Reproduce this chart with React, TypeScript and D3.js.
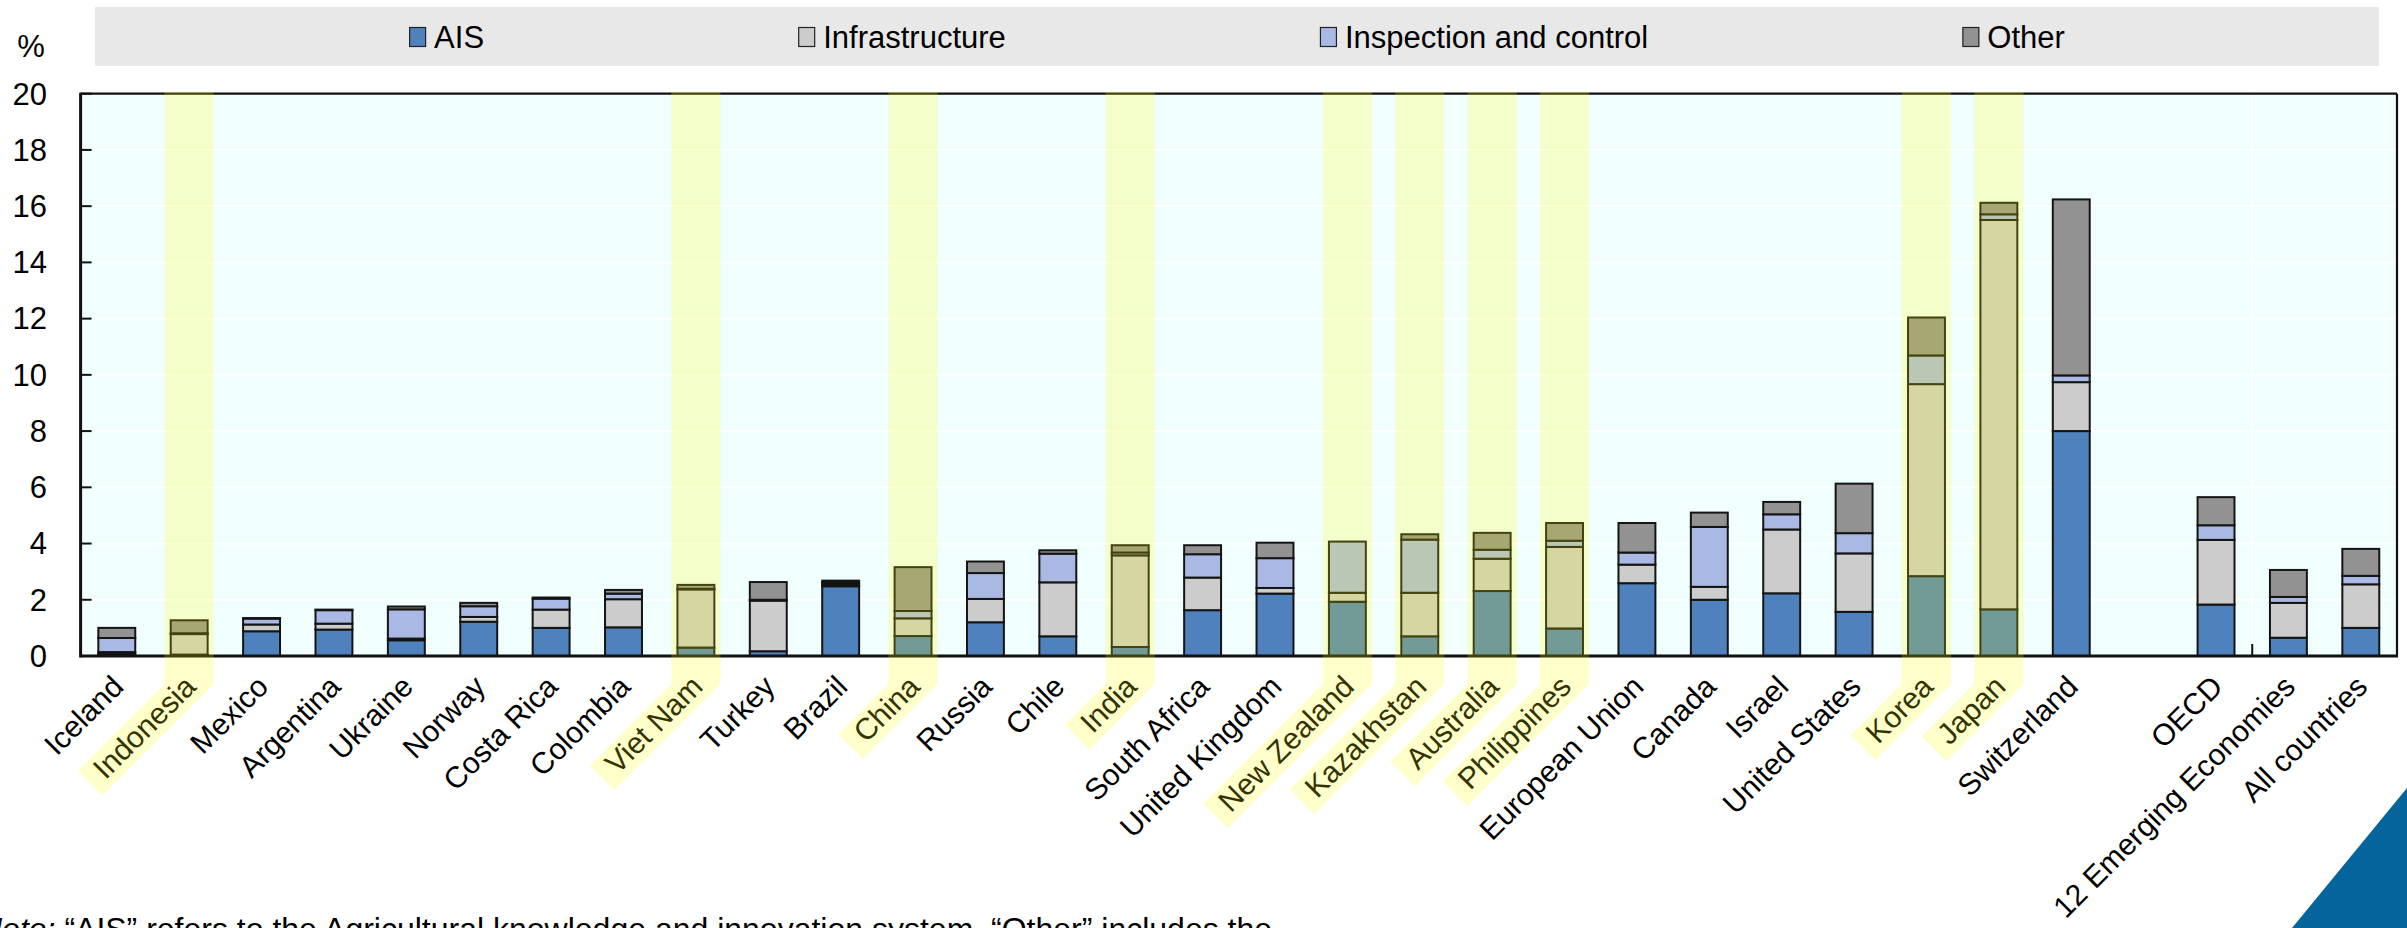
import React from 'react';
import * as d3 from 'd3';

// categories (countries sorted, then aggregates after a blank slot)
const countries = [
  'Iceland', 'Indonesia', 'Mexico', 'Argentina', 'Ukraine', 'Norway', 'Costa Rica',
  'Colombia', 'Viet Nam', 'Turkey', 'Brazil', 'China', 'Russia', 'Chile', 'India',
  'South Africa', 'United Kingdom', 'New Zealand', 'Kazakhstan', 'Australia',
  'Philippines', 'European Union', 'Canada', 'Israel', 'United States', 'Korea',
  'Japan', 'Switzerland',
];
const aggregates = ['OECD', '12 Emerging Economies', 'All countries'];

// emerging economies shaded in yellow
const highlighted = [
  'Indonesia', 'Viet Nam', 'China', 'India', 'New Zealand', 'Kazakhstan',
  'Australia', 'Philippines', 'Korea', 'Japan',
];

// % values, same order as countries + aggregates
const ais = [
  0.08, 0.05, 0.88, 0.94, 0.56, 1.22, 1.0, 1.02, 0.3, 0.17, 2.48, 0.71, 1.2, 0.7, 0.32,
  1.63, 2.22, 1.93, 0.7, 2.31, 0.98, 2.59, 2.0, 2.23, 1.57, 2.84, 1.66, 8.0,
  1.83, 0.65, 1.0,
];
const infrastructure = [
  0.06, 0.73, 0.24, 0.21, 0.06, 0.17, 0.65, 1.0, 2.07, 1.8, 0.07, 0.63, 0.83, 1.92, 3.26,
  1.16, 0.2, 0.32, 1.55, 1.15, 2.9, 0.66, 0.46, 2.27, 2.08, 6.83, 13.85, 1.74,
  2.3, 1.24, 1.55,
];
const inspection = [
  0.5, 0.03, 0.21, 0.48, 1.04, 0.38, 0.39, 0.2, 0.02, 0.03, 0.06, 0.26, 0.92, 1.02, 0.1,
  0.83, 1.06, 1.82, 1.89, 0.32, 0.22, 0.43, 2.13, 0.54, 0.72, 1.02, 0.2, 0.24,
  0.52, 0.21, 0.3,
];
const other = [
  0.36, 0.46, 0.02, 0.02, 0.1, 0.12, 0.04, 0.13, 0.14, 0.63, 0.07, 1.56, 0.41, 0.12, 0.26,
  0.32, 0.55, 0.0, 0.19, 0.6, 0.63, 1.05, 0.51, 0.44, 1.76, 1.35, 0.41, 6.26,
  1.0, 0.96, 0.96,
];

const seriesNames = ['AIS', 'Infrastructure', 'Inspection and control', 'Other'];
const seriesColors = ['#4f81bd', '#cccccc', '#a9b9e3', '#929292'];

const W = 2407;
const H = 928;
const plot = { left: 80.6, right: 2397, top: 93.7, bottom: 656 };
const FONT = "'Liberation Sans', Arial, Helvetica, sans-serif";
const TICK_SIZE = 31;
const CAT_SIZE = 30;
const LEG_SIZE = 31;

let ctx: CanvasRenderingContext2D | null = null;
function textWidth(s: string, size: number) {
  if (!ctx) ctx = document.createElement('canvas').getContext('2d');
  if (!ctx) return s.length * size * 0.5;
  ctx.font = `${size}px ${FONT}`;
  return ctx.measureText(s).width;
}

export default function App() {
  const labels = [...countries, ...aggregates];
  const domain = [...countries, '__gap', ...aggregates];

  const x = d3
    .scaleBand<string>()
    .domain(domain)
    .range([plot.left, plot.right])
    .paddingInner(0.49)
    .paddingOuter(0.245);
  const y = d3.scaleLinear().domain([0, 20]).range([plot.bottom, plot.top]);

  const rows = labels.map((name, i) => ({
    name,
    AIS: ais[i],
    Infrastructure: infrastructure[i],
    'Inspection and control': inspection[i],
    Other: other[i],
  }));
  const layers = d3.stack<any>().keys(seriesNames)(rows);

  const step = x.step();
  const bw = x.bandwidth();
  const cx = (name: string) => (x(name) as number) + bw / 2;

  // highlight column + slanted band under the label
  const colW = step * 0.68;
  const colBottom = 684;
  const labelY = 681;
  const hlPath = (name: string) => {
    const c = cx(name);
    const x0 = c - colW / 2;
    const x1 = c + colW / 2;
    const t = colW / 2;
    const L = textWidth(name, CAT_SIZE);
    const a = (L + 10) / Math.SQRT2 + t / 2;
    const p = d3.path();
    p.moveTo(x0, plot.top - 2);
    p.lineTo(x1, plot.top - 2);
    p.lineTo(x1, colBottom);
    p.lineTo(x1 - a, colBottom + a);
    p.lineTo(x1 - a - t, colBottom + a - t);
    p.lineTo(x0, colBottom);
    p.closePath();
    return p.toString();
  };

  // legend laid out with equal gaps, like the original
  const legBox = { x0: 95, x1: 2379, y0: 7, y1: 66 };
  const itemW = seriesNames.map((s) => 25 + textWidth(s, LEG_SIZE));
  const gap = (legBox.x1 - legBox.x0 - d3.sum(itemW)) / (seriesNames.length + 1);
  const legX: number[] = [];
  let acc = legBox.x0 + gap;
  itemW.forEach((w) => {
    legX.push(acc);
    acc += w + gap;
  });

  const yTicks = y.ticks(10);
  const splitX = (x('12 Emerging Economies') as number) - (step - bw) / 2;

  return (
    <div style={{ position: 'absolute', left: 0, top: 0, width: W, height: H, overflow: 'hidden' }}>
      <svg width={W} height={H} style={{ display: 'block', fontFamily: FONT }}>
        <rect width={W} height={H} fill="#ffffff" />

        {/* legend */}
        <rect x={legBox.x0} y={legBox.y0} width={legBox.x1 - legBox.x0} height={legBox.y1 - legBox.y0} fill="#e8e8e8" />
        {seriesNames.map((s, i) => (
          <g key={s} transform={`translate(${legX[i]},0)`}>
            <rect x={0.5} y={27.5} width={16} height={19} fill={seriesColors[i]} stroke="#222" strokeWidth={1.2} />
            <text x={25} y={37} dy="0.35em" fontSize={LEG_SIZE} fill="#000">
              {s}
            </text>
          </g>
        ))}

        <text x={31} y={46} dy="0.35em" textAnchor="middle" fontSize={TICK_SIZE}>
          %
        </text>

        {/* plot area */}
        <rect x={plot.left} y={plot.top} width={plot.right - plot.left} height={plot.bottom - plot.top} fill="#f0fefe" />
        {yTicks.map((v) => (
          <line key={v} x1={plot.left} x2={plot.right} y1={y(v)} y2={y(v)} stroke="#ffffff" strokeWidth={2} />
        ))}
        <line x1={splitX} x2={splitX} y1={plot.top} y2={plot.bottom} stroke="#ffffff" strokeWidth={2} />

        {layers.map((layer, li) => (
          <g key={layer.key} fill={seriesColors[li]}>
            {layer.map((d: any) =>
              d[1] - d[0] > 0 ? (
                <rect
                  key={d.data.name}
                  x={x(d.data.name)}
                  width={bw}
                  y={y(d[1])}
                  height={y(d[0]) - y(d[1])}
                  stroke="#141414"
                  strokeWidth={2}
                />
              ) : null
            )}
          </g>
        ))}

        {/* axes and frame */}
        <line x1={plot.left} x2={plot.right} y1={plot.top} y2={plot.top} stroke="#111" strokeWidth={2.2} />
        <line x1={plot.right} x2={plot.right} y1={plot.top} y2={plot.bottom} stroke="#111" strokeWidth={2.2} />
        <line x1={plot.left} x2={plot.left} y1={plot.top - 1} y2={plot.bottom + 1.5} stroke="#111" strokeWidth={3} />
        <line x1={plot.left} x2={plot.right + 1} y1={plot.bottom} y2={plot.bottom} stroke="#111" strokeWidth={3} />
        <line x1={splitX} x2={splitX} y1={plot.bottom - 12} y2={plot.bottom} stroke="#111" strokeWidth={2} />
        {yTicks.map((v) => (
          <g key={v}>
            <line x1={plot.left} x2={plot.left + 11} y1={y(v)} y2={y(v)} stroke="#111" strokeWidth={2} />
            <text x={47} y={y(v)} dy="0.35em" textAnchor="end" fontSize={TICK_SIZE}>
              {v}
            </text>
          </g>
        ))}

        {/* category labels */}
        {labels.map((name) => (
          <text
            key={name}
            transform={`translate(${cx(name) + 1},${labelY}) rotate(-45)`}
            dy="0.35em"
            textAnchor="end"
            fontSize={CAT_SIZE}
          >
            {name}
          </text>
        ))}

        {/* yellow highlight overlays */}
        {highlighted.map((name) => (
          <path key={name} d={hlPath(name)} fill="#ffff00" fillOpacity={0.2} />
        ))}

        {/* note, cut at the bottom edge as in the source */}
        <text x={-21} y={940} fontSize={32}>
          <tspan fontStyle="italic">Note:</tspan> “AIS” refers to the Agricultural knowledge and innovation system. “Other” includes the
        </text>

        <path d={`M2292,${H} L${W},788 L${W},${H} Z`} fill="#05649c" />
      </svg>
    </div>
  );
}
